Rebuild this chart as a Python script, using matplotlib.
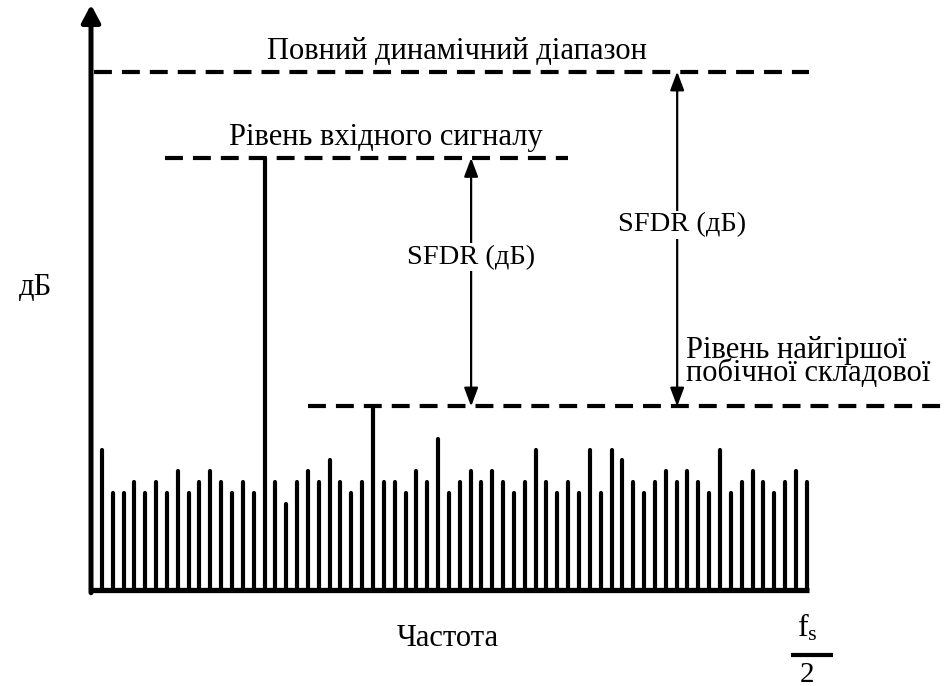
import numpy as np
import matplotlib
matplotlib.use("Agg")
import matplotlib.pyplot as plt

# spectrum bins (1 .. 66) and their levels, arbitrary dB units
bins = np.arange(1, 67)
spectrum_db = [13, 9, 9, 10, 9, 10, 9, 11, 9, 10, 11, 10, 9, 10, 9, 40,
               10, 8, 10, 11, 10, 12, 10, 9, 10, 17, 10, 10, 9, 11, 10, 14,
               9, 10, 11, 10, 11, 10, 9, 10, 13, 10, 9, 10, 9, 13, 9, 13,
               12, 10, 9, 10, 11, 10, 11, 10, 9, 13, 9, 10, 11, 10, 9, 10,
               11, 10]
full_scale_db = 48
signal_db = 40
spur_db = 17
nyquist_bin = 66.2

labels = {
    "full": "Повний динамічний діапазон",
    "signal": "Рівень вхідного сигналу",
    "spur": "Рівень найгіршої\nпобічної складової",
    "sfdr": "SFDR (дБ)",
    "ylab": "дБ",
    "xlab": "Частота",
}

plt.rcParams["font.family"] = ["Liberation Serif", "DejaVu Serif"]
plt.rcParams["mathtext.fontset"] = "custom"
plt.rcParams["mathtext.rm"] = "Liberation Serif"

W, H = 944, 686
px_x, px_y = 10.845, 10.8      # pixels per data unit
x0_px, y0_px = 91, 590          # origin position in pixels (from top-left)

fig = plt.figure(figsize=(W / 100, H / 100), dpi=100)
ax = fig.add_axes([0, 0, 1, 1])
ax.set_xlim(-x0_px / px_x, (W - x0_px) / px_x)
ax.set_ylim(-(H - y0_px) / px_y, y0_px / px_y)
ax.axis("off")

k = "black"
fs = 22        # cyrillic labels (source font runs wide)
fs_lat = 20.5

# spectrum lines
ax.vlines(bins, 0, spectrum_db, colors=k, lw=3.0, capstyle="round")

# axes: baseline and y arrow
ax.plot([0, nyquist_bin], [0, 0], color=k, lw=3.8, solid_capstyle="butt")
ax.annotate("", xy=(0, 54.2), xytext=(0, -0.25),
            arrowprops=dict(arrowstyle="-|>,head_length=0.75,head_width=0.4",
                            color=k, lw=3.6, mutation_scale=14,
                            shrinkA=0, shrinkB=0))

# dashed reference levels
dash = (0, (4.3, 2.4))
ax.plot([0.3, nyquist_bin], [full_scale_db] * 2, color=k, lw=3, ls=dash)
ax.plot([6.8, 44.0], [signal_db] * 2, color=k, lw=3, ls=dash)
ax.plot([20.0, 80], [spur_db] * 2, color=k, lw=3, ls=dash)

# SFDR arrows
arr = dict(arrowstyle="<|-|>,head_length=0.8,head_width=0.3", color=k,
           lw=1.6, mutation_scale=14, shrinkA=0, shrinkB=0)
x_sfdr1, x_sfdr2 = 35.05, 54.05
ax.annotate("", xy=(x_sfdr1, signal_db), xytext=(x_sfdr1, spur_db), arrowprops=arr)
ax.annotate("", xy=(x_sfdr2, full_scale_db), xytext=(x_sfdr2, spur_db), arrowprops=arr)

# texts
ax.text(33.7, 49.9, labels["full"], fontsize=fs, ha="center", va="center")
ax.text(27.15, 41.9, labels["signal"], fontsize=fs, ha="center", va="center")
ax.text(x_sfdr1, 30.8, labels["sfdr"], fontsize=fs_lat, ha="center", va="center",
        bbox=dict(facecolor="white", edgecolor="none", pad=1))
ax.text(54.5, 33.8, labels["sfdr"], fontsize=fs_lat, ha="center", va="center",
        bbox=dict(facecolor="white", edgecolor="none", pad=1))
ax.text(54.9, 21.1, labels["spur"], fontsize=fs, ha="left", va="center",
        linespacing=0.7)
ax.text(-5.1, 28.0, labels["ylab"], fontsize=fs, ha="center", va="center")
ax.text(32.9, -4.45, labels["xlab"], fontsize=fs, ha="center", va="center")

# fs / 2
ax.text(66.1, -3.5, r"$\mathregular{f_s}$", fontsize=23, ha="center", va="center")
ax.plot([64.5, 68.4], [-6.0, -6.0], color=k, lw=3, solid_capstyle="butt")
ax.text(66.0, -8.5, "2", fontsize=21, ha="center", va="baseline")

fig.savefig("out.png", dpi=100, facecolor="white")
